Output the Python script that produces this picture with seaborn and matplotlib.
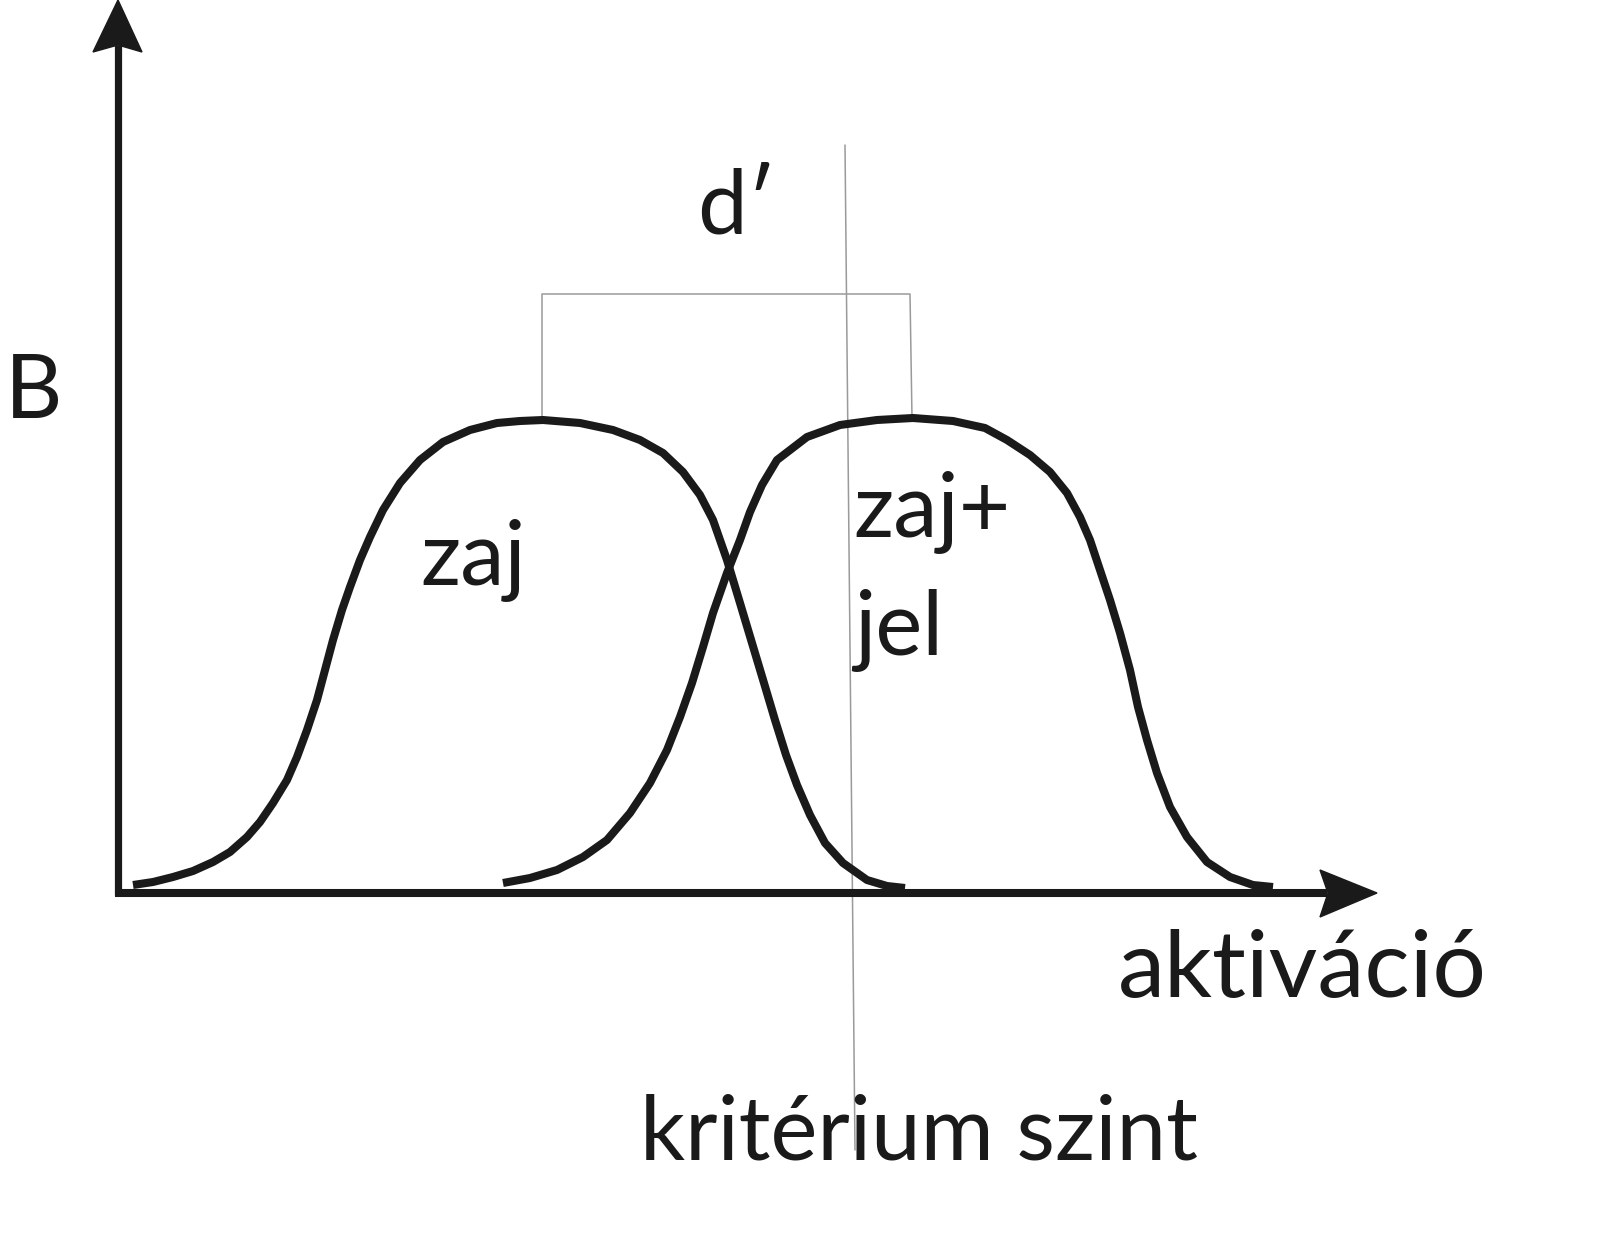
import matplotlib.pyplot as plt
import seaborn as sns
from matplotlib.patches import Polygon

# zaj (noise) distribution
zaj_x = [0.15, 0.35, 0.55, 0.75, 0.95, 1.12, 1.29, 1.42, 1.55, 1.69, 1.79, 1.89, 1.99, 2.07,
         2.15, 2.24, 2.32, 2.42, 2.52, 2.65, 2.82, 3.02, 3.25, 3.52, 3.79, 4.02, 4.25, 4.62,
         4.95, 5.22, 5.45, 5.65, 5.82, 5.95, 6.09, 6.22, 6.34, 6.46, 6.57, 6.68, 6.79, 6.92,
         7.07, 7.25, 7.49, 7.69, 7.87]
zaj_y = [0.08, 0.11, 0.16, 0.22, 0.31, 0.41, 0.56, 0.71, 0.90, 1.13, 1.36, 1.63, 1.93, 2.23,
         2.53, 2.83, 3.06, 3.33, 3.56, 3.83, 4.10, 4.33, 4.51, 4.63, 4.70, 4.72, 4.73, 4.70,
         4.63, 4.53, 4.40, 4.21, 3.98, 3.73, 3.33, 2.90, 2.50, 2.10, 1.73, 1.38, 1.08, 0.78,
         0.50, 0.30, 0.13, 0.07, 0.05]

# zaj + jel (noise + signal) distribution
jel_x = [3.85, 4.12, 4.39, 4.65, 4.89, 5.12, 5.32, 5.49, 5.62, 5.74, 5.85, 5.95, 6.09, 6.22,
         6.32, 6.44, 6.59, 6.89, 7.22, 7.59, 7.95, 8.35, 8.67, 8.89, 9.12, 9.32, 9.49, 9.62,
         9.72, 9.82, 9.92, 10.02, 10.12, 10.20, 10.29, 10.39, 10.52, 10.69, 10.89, 11.12,
         11.35, 11.55]
jel_y = [0.10, 0.15, 0.23, 0.36, 0.53, 0.80, 1.10, 1.43, 1.76, 2.10, 2.46, 2.80, 3.20, 3.53,
         3.81, 4.08, 4.33, 4.56, 4.68, 4.73, 4.75, 4.72, 4.65, 4.53, 4.38, 4.21, 4.00, 3.76,
         3.53, 3.23, 2.93, 2.60, 2.23, 1.86, 1.53, 1.20, 0.86, 0.56, 0.31, 0.16, 0.08, 0.06]

# kritérium line and d' bracket
krit_x = [7.27, 7.37]
krit_y = [7.48, -2.57]
dprime_x = [4.24, 7.92]
dprime_top = 5.99
dprime_bottom = 4.75

x_max = 12.59
y_max = 8.93

sns.set_theme(style="white")
plt.rcParams["font.family"] = ["Lato", "DejaVu Sans"]

ink = "#1a1a1a"
grey = "#9a9a9a"

fig = plt.figure(figsize=(16.08, 12.41), dpi=100)
ax = fig.add_axes([0, 0, 1, 1])
ax.set_xlim(-1.18, 14.90)
ax.set_ylim(-3.48, 8.93)
ax.axis("off")

# criterion level and d' bracket (thin grey)
ax.plot(krit_x, krit_y, color=grey, lw=1.1, zorder=1)
ax.plot([dprime_x[0], dprime_x[0], dprime_x[1], dprime_x[1] + 0.02],
        [dprime_bottom, dprime_top, dprime_top, dprime_bottom], color=grey, lw=1.1, zorder=1)

# the two distributions
for xs, ys in [(zaj_x, zaj_y), (jel_x, jel_y)]:
    sns.lineplot(x=xs, y=ys, color=ink, lw=5.8, ax=ax, sort=False,
                 solid_capstyle="butt", solid_joinstyle="round", zorder=3)

# axes with notched arrowheads
ax.plot([0, 0], [-0.02, y_max - 0.45], color=ink, lw=5.2, solid_capstyle="butt", zorder=2)
ax.plot([-0.03, x_max - 0.5], [0, 0], color=ink, lw=5.8, solid_capstyle="butt", zorder=2)
ax.add_patch(Polygon([(0, y_max), (-0.25, y_max - 0.52), (0, y_max - 0.45), (0.24, y_max - 0.52)],
                     closed=True, color=ink, zorder=4))
ax.add_patch(Polygon([(x_max, 0), (x_max - 0.57, 0.23), (x_max - 0.49, 0), (x_max - 0.57, -0.24)],
                     closed=True, color=ink, zorder=4))

fs = 64
txt = dict(color=ink, fontsize=fs, ha="left", va="baseline")
ax.text(-1.13, 4.75, "B", **txt)
ax.text(5.79, 6.59, "d\u2032", **txt)
ax.text(3.02, 3.08, "zaj", **txt)
ax.text(7.35, 3.56, "zaj+", **txt)
ax.text(7.36, 2.38, "jel", **txt)
ax.text(11.84, -1.04, "aktiváció", **{**txt, "ha": "center", "fontsize": 68})
ax.text(8.01, -2.66, "kritérium szint", **{**txt, "ha": "center"})

plt.savefig("out.png", dpi=100, facecolor="white")
